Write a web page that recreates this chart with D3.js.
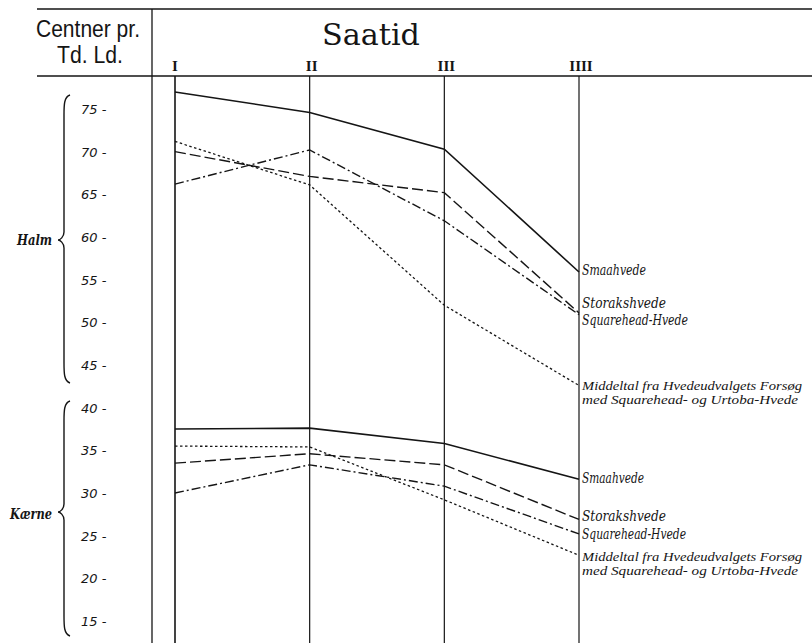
<!DOCTYPE html>
<html><head><meta charset="utf-8">
<script src="https://cdn.jsdelivr.net/npm/d3@7"></script>
<style>body{margin:0;background:#fff}svg{display:block}</style>
</head><body>
<script>
const saatid = ["I","II","III","IIII"];
const yTicks = [75,70,65,60,55,50,45,40,35,30,25,20,15];
const seriesNames = ["Smaahvede","Storakshvede","Squarehead-Hvede","Middeltal"];
const halmSmaahvede   = [77.0, 74.6, 70.3, 55.9];
const halmStoraks     = [70.0, 67.1, 65.2, 51.1];
const halmSquarehead  = [66.2, 70.2, 61.9, 50.9];
const halmMiddeltal   = [71.2, 66.1, 52.0, 42.6];
const kaerneSmaahvede  = [37.5, 37.6, 35.8, 31.6];
const kaerneStoraks    = [33.5, 34.6, 33.3, 26.9];
const kaerneSquarehead = [30.0, 33.3, 30.8, 25.2];
const kaerneMiddeltal  = [35.5, 35.4, 29.2, 22.7];

const W = 812, H = 643;
const svg = d3.select("body").append("svg").attr("width", W).attr("height", H);
const x = d3.scalePoint().domain(saatid).range([175, 579]);
const y = d3.scaleLinear().domain([15, 75]).range([621, 109]);
const ink = "#151515";
const serif = "'DejaVu Serif','Liberation Serif',serif";
const narrowSerif = "'Liberation Serif','DejaVu Serif',serif";

// frame lines
svg.append("line").attr("x1",37).attr("x2",W).attr("y1",9).attr("y2",9).attr("stroke",ink).attr("stroke-width",1.4);
svg.append("line").attr("x1",37).attr("x2",W).attr("y1",76).attr("y2",76).attr("stroke",ink).attr("stroke-width",1.4);
svg.append("line").attr("x1",152).attr("x2",152).attr("y1",9).attr("y2",H).attr("stroke",ink).attr("stroke-width",1.3);
svg.selectAll("line.col").data(saatid).join("line").attr("class","col")
  .attr("x1",d=>x(d)).attr("x2",d=>x(d)).attr("y1",76).attr("y2",H)
  .attr("stroke",ink).attr("stroke-width",(d,i)=>i===0?1.6:1.2);

// header text
svg.append("text").attr("x",88).attr("y",37).attr("text-anchor","middle")
  .attr("font-family","'Liberation Sans',sans-serif").attr("font-size",23)
  .attr("textLength",104).attr("lengthAdjust","spacingAndGlyphs").attr("fill",ink).text("Centner pr.");
svg.append("text").attr("x",90).attr("y",63).attr("text-anchor","middle")
  .attr("font-family","'Liberation Sans',sans-serif").attr("font-size",23)
  .attr("textLength",66).attr("lengthAdjust","spacingAndGlyphs").attr("fill",ink).text("Td. Ld.");
svg.append("text").attr("x",322).attr("y",45)
  .attr("font-family",serif).attr("font-size",29).attr("textLength",98).attr("lengthAdjust","spacingAndGlyphs")
  .attr("fill",ink).text("Saatid");
svg.selectAll("text.rom").data(saatid).join("text").attr("class","rom")
  .attr("x",d=>x(d)+ (d==="I"?0:2)).attr("y",71).attr("text-anchor","middle")
  .attr("font-family","'Liberation Serif',serif").attr("font-weight","bold").attr("font-size",15).attr("fill",ink).text(d=>d);

// y ticks
svg.selectAll("text.tick").data(yTicks).join("text").attr("class","tick")
  .attr("x",81).attr("y",d=>y(d)+5)
  .attr("font-family","'DejaVu Sans',sans-serif").attr("font-style","italic").attr("font-size",13)
  .attr("fill",ink).text(d=>d+" -");

// braces
function brace(top, mid, bot){
  const xr = 70, xm = 64, xt = 58;
  return `M${xr},${top} C${xm},${top+2} ${xm},${top+10} ${xm},${top+20} L${xm},${mid-8} C${xm},${mid-3} ${xt+2},${mid} ${xt},${mid}`+
         ` C${xt+2},${mid} ${xm},${mid+3} ${xm},${mid+8} L${xm},${bot-20} C${xm},${bot-10} ${xm},${bot-2} ${xr},${bot}`;
}
svg.append("path").attr("d",brace(95,240,383)).attr("fill","none").attr("stroke",ink).attr("stroke-width",1.4);
svg.append("path").attr("d",brace(401,512,636)).attr("fill","none").attr("stroke",ink).attr("stroke-width",1.4);
svg.append("text").attr("x",17).attr("y",245).attr("font-family",serif).attr("font-style","italic").attr("font-weight","bold")
  .attr("font-size",14).attr("textLength",35).attr("lengthAdjust","spacingAndGlyphs").attr("fill",ink).text("Halm");
svg.append("text").attr("x",10).attr("y",519).attr("font-family",serif).attr("font-style","italic").attr("font-weight","bold")
  .attr("font-size",14).attr("textLength",42).attr("lengthAdjust","spacingAndGlyphs").attr("fill",ink).text("Kærne");

// lines
const dashes = [null, "11,4", "9,3,2,3", "2.5,2.5"];
const widths = [1.6, 1.4, 1.4, 1.3];
const groups = [
  [halmSmaahvede, halmStoraks, halmSquarehead, halmMiddeltal],
  [kaerneSmaahvede, kaerneStoraks, kaerneSquarehead, kaerneMiddeltal]
];
const line = d3.line().x((d,i)=>x(saatid[i])).y(d=>y(d));
groups.forEach(g=>{
  g.forEach((vals,k)=>{
    svg.append("path").datum(vals).attr("d",line).attr("fill","none").attr("stroke",ink)
      .attr("stroke-width",widths[k]).attr("stroke-dasharray",dashes[k]);
  });
});

// labels
const lab = (txt, yy, len, fs, fam) => {
  const t = svg.append("text").attr("x",582).attr("y",yy).attr("font-family",fam||serif)
    .attr("font-style","italic").attr("font-size",fs||14).attr("fill",ink).text(txt);
  if (len) t.attr("textLength",len).attr("lengthAdjust","spacingAndGlyphs");
};
lab("Smaahvede", 275, 64);
lab("Storakshvede", 308, 84);
lab("Squarehead-Hvede", 325, 106);
lab("Middeltal fra Hvedeudvalgets Forsøg", 390, 220, 13, narrowSerif);
lab("med Squarehead- og Urtoba-Hvede", 404, 216, 13, narrowSerif);
lab("Smaahvede", 483, 62);
lab("Storakshvede", 521, 84);
lab("Squarehead-Hvede", 539, 104);
lab("Middeltal fra Hvedeudvalgets Forsøg", 561, 220, 13, narrowSerif);
lab("med Squarehead- og Urtoba-Hvede", 575, 216, 13, narrowSerif);
</script>
</body></html>
